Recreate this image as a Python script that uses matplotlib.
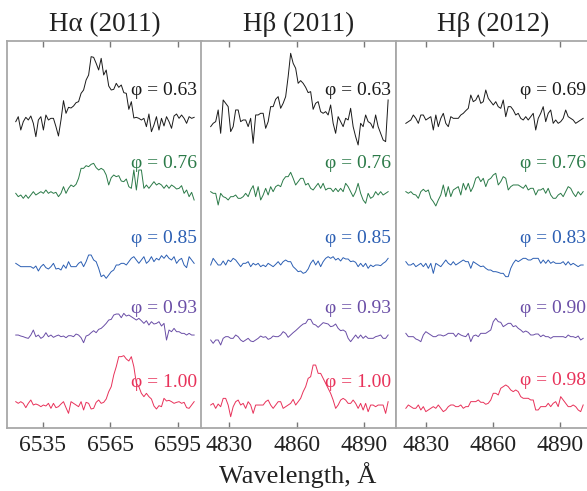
import numpy as np
import matplotlib
matplotlib.use("Agg")
import matplotlib.pyplot as plt

plt.rcParams['font.family'] = ['Liberation Serif', 'DejaVu Serif']

# panel setup
titles = ['H\u03b1 (2011)', 'H\u03b2 (2011)', 'H\u03b2 (2012)']
xlims = [(6519.0, 6605.9), (4817.4, 4904.1), (4816.7, 4903.9)]
xticks = [[6535, 6565, 6595], [4830, 4860, 4890], [4830, 4860, 4890]]
wl_range = [(6522.9, 6602.4), (4821.7, 4900.6), (4821.1, 4900.4)]

phases = [['0.63', '0.76', '0.85', '0.93', '1.00'],
          ['0.63', '0.76', '0.85', '0.93', '1.00'],
          ['0.69', '0.76', '0.83', '0.90', '0.98']]
colors = ['#1a1a1a', '#2b7a48', '#2c5fb3', '#6a4ea6', '#e8325a']

# vertical offset of each spectrum (continuum level) and label heights
offsets = [[3.08, 2.33, 1.63, 0.913, 0.23],
           [3.047, 2.33, 1.63, 0.88, 0.213],
           [3.08, 2.347, 1.63, 0.93, 0.197]]
label_y = [[3.33, 2.60, 1.85, 1.15, 0.41],
           [3.33, 2.60, 1.85, 1.15, 0.41],
           [3.33, 2.60, 1.85, 1.15, 0.43]]

# residual flux relative to continuum, units of 1/300 continuum
ha11 = [
    [-5, 10, -30, -5, 8, 0, 12, -10, -50, 0, 10, -30, 15, 0, 5, 5, -20, -48, 0, 58,
     20, 38, 36, 42, 52, 55, 80, 90, 120, 135, 190, 188, 170, 150, 185, 135, 150, 102, 90, 92,
     110, 98, 105, 82, 80, 32, 55, 6, 8, 5, 0, 5, -20, 18, -35, -15, 10, -30, 5, -18,
     10, -5, -25, 12, 18, 5, 15, 5, -10, 10, 5, 8],
    [5, -5, 0, -10, 0, -10, 0, 10, 0, 5, 10, 5, 15, 5, 10, 5, 8, -5, 5, 25,
     5, 20, 30, 25, 32, 50, 80, 80, 88, 85, 92, 95, 82, 75, 80, 75, 60, 30, 52, 60,
     55, 58, 42, 40, 48, 25, 20, 75, 15, 75, 75, 20, 30, 20, 30, 40, 30, 35, 30, 20,
     30, 20, 30, 25, 18, 20, 28, 5, 15, -5, 8, -15],
    [5, 0, -5, -5, -5, -5, -5, -10, -3, -18, -5, 2, -8, -12, -5, 5, -12, -10, -15, 0,
     -10, 10, -5, -5, -5, 5, 10, -5, 10, 30, 30, 15, 10, -10, -35, -30, -40, -30, -20, -15,
     0, 0, 5, 5, 0, 10, 20, 25, 15, 5, 15, 25, 5, 12, 25, 10, 20, 15, 28, 20,
     30, 20, 15, 25, 5, 15, 20, 0, -8, 25, 15, 5],
    [5, 5, 2, 0, -3, -5, 5, 20, 0, 5, -5, 0, 12, 0, 5, -2, 2, 5, 0, 2,
     -3, 3, 3, 0, 8, 5, -3, -18, 2, 5, 12, 18, 12, 22, 25, 32, 40, 50, 52, 65,
     68, 68, 57, 70, 62, 65, 60, 55, 50, 55, 48, 40, 48, 35, 45, 38, 40, 45, 32, 40,
     -10, 20, 15, 25, 15, 15, 10, 10, 5, 10, 5, 5],
    [10, 5, 10, 5, -8, 5, 15, 0, 3, 0, -5, 0, -3, 5, -10, 5, -8, -5, 3, 10,
     -8, -25, 10, 5, 0, -5, 10, -15, 8, 5, -12, -10, 8, 15, 5, 8, 18, 40, 55, 90,
     115, 145, 145, 148, 138, 132, 145, 115, 65, 55, 35, 25, 35, 25, 18, -3, -12, -2, -5, 20,
     12, 14, 10, 5, 8, 10, 5, 8, -8, -10, 0, 10],
]

hb11 = [
    [-10, 0, 5, 40, -30, 70, 60, 50, -25, -10, 40, 40, 5, 10, 10, -10, 15, -60, 25, 25,
     30, 30, -15, 5, 50, 50, 72, 80, 45, 60, 80, 140, 210, 180, 165, 120, 128, 120, 108, 92,
     95, 42, 60, 65, 35, 30, 35, 25, 55, 0, -30, 20, 5, -10, 15, 10, 45, -10, -40, -65,
     0, -10, 25, 5, 0, -15, 25, -10, -30, -50, -55, 70],
    [10, 5, 5, -30, 5, -5, -8, -15, -5, -5, 0, -10, -10, -5, 5, -5, 15, 28, -5, 25,
     -15, 0, 20, 0, 25, 10, 25, 30, 25, 45, 55, 55, 68, 50, 30, 40, 50, 50, 30, 35,
     20, 15, 25, 35, 20, 35, 15, 20, 20, 10, 20, 10, 20, 10, 35, 25, 10, -5, 10, 35,
     5, -15, -25, 5, -10, -5, 10, 0, 10, 0, 5, 10],
    [0, 20, 10, 0, 0, 12, 0, 15, 10, 20, 15, 5, -5, 5, 5, 10, -5, 5, 0, 5,
     -5, 0, -5, 5, 0, -5, 2, 10, 0, 10, 15, 10, 10, -5, -12, -20, -18, -25, -22, -12,
     5, 15, 0, 12, -5, 10, 20, 25, 20, 25, 15, 20, 12, 22, 18, 18, 10, 12, 8, -5,
     5, -5, 5, -10, 0, -5, 0, 0, -2, 5, 10, 20],
    [0, -10, 0, 0, -15, 5, 10, 10, 5, 5, 15, 10, 0, -5, 0, 5, -3, -5, 0, 5,
     12, 8, 10, 2, 5, 12, 10, 10, 15, 25, 20, 8, 15, 22, 28, 35, 42, 48, 50, 62,
     62, 48, 45, 38, 45, 52, 50, 48, 40, 42, 48, 35, 28, 30, 25, 5, -5, 5, 15, 5,
     15, 5, 12, 5, 5, 5, 10, 12, 15, 5, 5, 15],
    [5, 10, -5, 8, 0, 25, 25, 5, -30, 0, 15, 20, 5, 10, -5, 15, 5, -20, 5, 5,
     5, 5, 15, 20, 5, -5, 5, 15, 15, -5, 0, 5, 10, 22, 5, 15, 25, 45, 60, 85,
     90, 125, 125, 100, 100, 85, 70, 55, 40, 20, -5, 5, 20, 25, 20, 10, 10, 20, 10, -5,
     10, -10, 10, -15, 5, 5, 0, 5, 5, 5, -20, 15],
]

hb12 = [
    [-10, -5, 0, 15, 5, -10, 15, 15, 0, 5, 10, -30, 15, -20, 5, 20, -10, -20, 10, 5,
     5, 5, 15, 20, 28, 35, 75, 55, 60, 75, 50, 55, 90, 65, 55, 45, 55, 40, 35, 60,
     10, 40, 40, 30, 15, 20, 5, 0, 10, 0, 10, 20, -30, 5, 20, 40, -5, 20, 30, -10,
     0, -10, -5, 5, 30, 10, 5, 0, -10, -5, 0, 5],
    [5, 0, 5, -3, -5, -15, 5, 12, 5, 10, -15, -25, -38, -20, -5, 25, -10, 20, -10, 10,
     15, 20, -5, 30, 10, 30, 5, 20, 45, 50, 35, 45, 20, 40, 45, 55, 60, 25, 35, 50,
     45, 10, 20, 25, 25, 25, 20, 15, 25, 10, 15, 15, -5, 10, 10, 15, 0, 15, -5, -15,
     -15, -5, 0, -10, 5, 20, 15, 0, -10, 5, -5, 5],
    [10, 0, 0, 5, -5, 0, 5, -5, 5, -10, 5, -25, 5, 0, -5, 5, 15, 5, 0, 10,
     0, 5, 10, 15, 10, 10, -10, 10, 5, 0, -5, -3, -10, -15, -15, -20, -20, -22, -25, -25,
     -35, -35, -10, 5, 15, 10, 15, 20, 20, 15, 15, 20, 20, 20, 5, 15, 5, 15, 5, 10,
     5, 5, 5, 10, 0, 10, 0, 5, 0, -5, 0, 0],
    [5, -5, -5, -5, -12, -15, -20, 0, 10, 5, 0, -5, -5, 0, 0, -3, 0, 5, 5, 5,
     -5, 5, 0, -3, -5, 5, -20, -3, 0, -5, 5, 5, 5, 10, 15, 40, 50, 40, 38, 25,
     30, 35, 35, 25, 28, 20, 15, 8, 12, 8, 0, 0, 3, 3, -5, 0, -5, -5, -10, -5,
     -5, -5, -5, -5, -8, 0, -5, -5, -8, -3, -15, -10],
    [0, 10, 5, 0, 0, 10, -5, 5, -10, -5, 0, 5, 0, 10, 0, -10, -5, 5, 10, 10,
     5, 5, 10, 0, 5, 5, 20, 20, 20, 25, 18, 18, 12, 15, 25, 45, 45, 40, 60, 65,
     70, 65, 55, 50, 55, 50, 35, 30, 30, 30, 25, 25, -5, -5, 5, 5, 5, 15, 5, 15,
     20, 5, 35, 25, 15, 5, 5, 10, 5, -5, -10, 10],
]

spectra = [ha11, hb11, hb12]

W, H = 587, 491
fig = plt.figure(figsize=(W / 100, H / 100), dpi=100)

lefts = [7, 201, 396]
for p in range(3):
    ax = fig.add_axes([lefts[p] / W, 63 / H, 195 / W, 387 / H])
    for i in range(5):
        vals = np.array(spectra[p][i]) / 300.0
        wl = np.linspace(wl_range[p][0], wl_range[p][1], len(vals))
        ax.plot(wl, offsets[p][i] + vals, color=colors[i], lw=0.7)
        ax.text(xlims[p][1] - 2.3, label_y[p][i], '\u03c6 = ' + phases[p][i],
                color=colors[i], fontsize=14, ha='right', va='baseline')
    ax.set_xlim(*xlims[p])
    ax.set_ylim(0, 3.87)
    ax.set_xticks(xticks[p])
    ax.set_yticks([])
    ax.tick_params(axis='x', direction='in', top=True, length=4, width=1,
                   color='#777777', labelsize=17, pad=5, labelcolor='#222222')
    for s in ax.spines.values():
        s.set_color('#a8a8a8')
        s.set_linewidth(1.3)
    if p == 2:
        ax.spines['right'].set_visible(False)
    ax.set_title(titles[p], fontsize=19.5, pad=7, color='#222222')

fig.text(298 / W, 8 / H, 'Wavelength, \u00c5', ha='center', va='baseline',
         fontsize=19, color='#222222')

fig.savefig('out.png', dpi=100)
